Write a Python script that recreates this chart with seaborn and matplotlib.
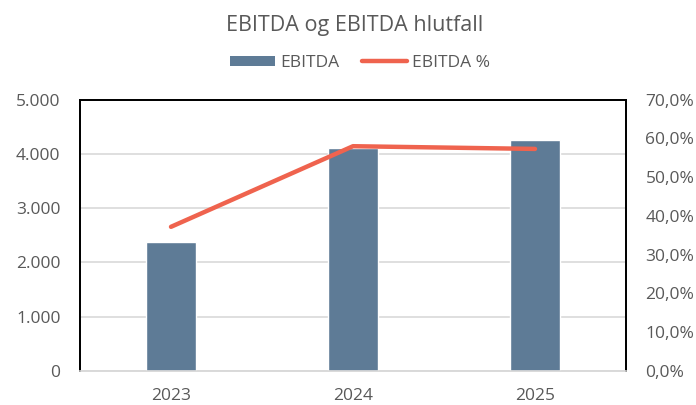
import matplotlib
matplotlib.use("Agg")
import matplotlib.pyplot as plt
import seaborn as sns
import pandas as pd
from matplotlib.ticker import FuncFormatter
from matplotlib.patches import Patch
from matplotlib.lines import Line2D

years = ["2023", "2024", "2025"]
ebitda = [2383, 4110, 4257]
ebitda_pct = [37.2, 58.0, 57.3]
left_ticks = [0, 1000, 2000, 3000, 4000, 5000]
right_ticks = [0, 10, 20, 30, 40, 50, 60, 70]

sns.set_theme(style="white")
plt.rcParams['font.family'] = ['Open Sans', 'DejaVu Sans']

bar_color = "#5E7B96"
line_color = "#EF634E"
text_color = "#595959"

df = pd.DataFrame({"year": years, "ebitda": ebitda, "pct": ebitda_pct})

fig = plt.figure(figsize=(6.96, 4.05), dpi=100)
ax = fig.add_axes([80/696, 1-371/405, (626-80)/696, (371-99.7)/405])

sns.barplot(data=df, x="year", y="ebitda", color=bar_color, width=0.27,
            saturation=1, ax=ax, zorder=3)
ax.set_ylim(0, 5000)
ax.set_xlim(-0.5, 2.5)
ax.set_yticks(left_ticks)
ax.yaxis.set_major_formatter(FuncFormatter(lambda v, p: f"{int(v):,}".replace(",", ".")))
ax.grid(axis="y", color="#D9D9D9", linewidth=1.2, zorder=0)
ax.set_axisbelow(True)
ax.set_xlabel("")
ax.set_ylabel("")
ax.tick_params(axis="y", colors=text_color, labelsize=12.5, length=0, pad=14)
ax.tick_params(axis="x", colors=text_color, labelsize=12.5, length=0, pad=12)
for lbl in ax.get_xticklabels() + ax.get_yticklabels():
    lbl.set_color(text_color)

ax2 = ax.twinx()
sns.lineplot(data=df, x="year", y="pct", color=line_color, linewidth=3.2,
             ax=ax2, solid_capstyle="round", zorder=4)
ax2.set_ylim(0, 70)
ax2.set_yticks(right_ticks)
ax2.yaxis.set_major_formatter(FuncFormatter(lambda v, p: f"{v:.1f}%".replace(".", ",")))
ax2.set_ylabel("")
ax2.tick_params(axis="y", colors=text_color, labelsize=12.5, length=0, pad=14)
ax2.set_xlim(-0.5, 2.5)

for a in (ax, ax2):
    for side in ("left", "top", "right"):
        a.spines[side].set_color("black")
        a.spines[side].set_linewidth(1.3)
    a.spines["bottom"].set_color("#D9D9D9")
    a.spines["bottom"].set_linewidth(1.2)

fig.text(355/696, 1-25/405, "EBITDA og EBITDA hlutfall", ha="center", va="center",
         fontsize=15.5, color=text_color)

handles = [Patch(facecolor=bar_color, edgecolor="none"),
           Line2D([0], [0], color=line_color, linewidth=3.2, solid_capstyle="round")]
fig.legend(handles, ["EBITDA", "EBITDA %"], loc="center", bbox_to_anchor=(360/696, 1-63/405),
           ncol=2, frameon=False, fontsize=12.5, labelcolor=text_color,
           handlelength=2.6, handleheight=0.55, columnspacing=1.3, handletextpad=0.3)

fig.savefig("out.png", dpi=100)
